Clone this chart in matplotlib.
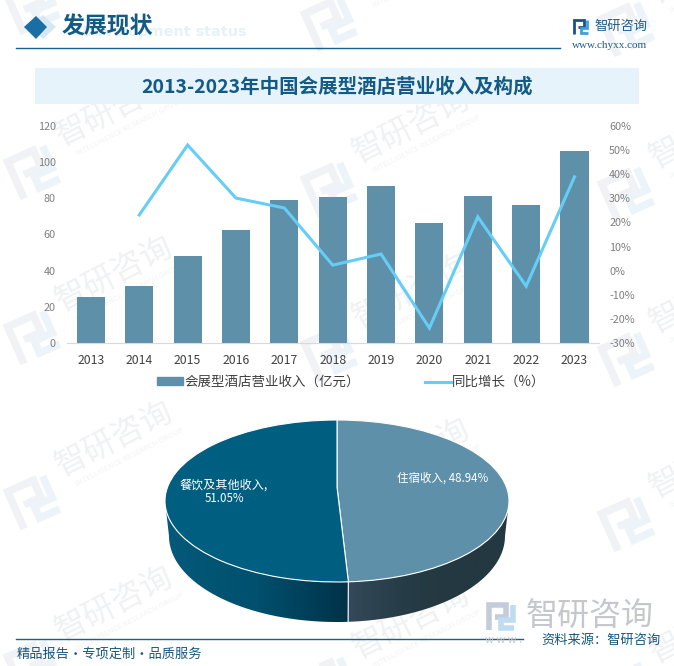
import numpy as np
import matplotlib
matplotlib.use("Agg")
import matplotlib.pyplot as plt
from matplotlib.colors import LinearSegmentedColormap
from matplotlib.lines import Line2D
from matplotlib.patches import Patch, PathPatch, Polygon, Rectangle
from matplotlib.path import Path
from matplotlib.transforms import Affine2D

plt.rcParams['font.family'] = ['Noto Sans CJK SC', 'DejaVu Sans']

W, H = 674, 666

years = ['2013', '2014', '2015', '2016', '2017', '2018', '2019', '2020', '2021', '2022', '2023']
revenue = [25.4, 31.5, 48, 62.5, 79, 80.8, 86.8, 66.4, 81.3, 76.3, 106.2]
growth = [np.nan, 23.1, 52.1, 30.1, 26, 2.3, 6.9, -23.8, 22.3, -6.4, 38.9]
left_ticks = [0, 20, 40, 60, 80, 100, 120]
right_ticks = [-30, -20, -10, 0, 10, 20, 30, 40, 50, 60]
pie_names = ['住宿收入', '餐饮及其他收入']
pie_shares = [48.94, 51.05]

BAR = '#5e91a9'
LINE = '#66cdf6'
DARK = '#005f80'
NAVY = '#135a85'


def px_axes(x0, y0, x1, y1, **kw):
    # axes placed by pixel box, y counted from the top
    return fig.add_axes([x0 / W, 1 - y1 / H, (x1 - x0) / W, (y1 - y0) / H], **kw)


def put(x, y, s, **kw):
    kw.setdefault('va', 'center')
    return fig.text(x / W, 1 - y / H, s, **kw)


def draw_mark(ax, x, y, size, angle, c1, c2, lw, zorder=0.5):
    # the little square spiral logo, (x, y) is its top left corner, y axis points down
    tr = Affine2D().scale(size).rotate_deg(angle).translate(x, y) + ax.transData
    for pts, c in (([(.08, 1), (.08, .08), (.72, .08), (.72, .5), (.3, .5)], c1),
                   ([(.95, .08), (.95, .62), (.5, .62), (.5, .92), (1, .92)], c2)):
        xs, ys = zip(*pts)
        ax.plot(xs, ys, color=c, lw=lw, transform=tr, solid_joinstyle='miter',
                solid_capstyle='butt', zorder=zorder)


fig = plt.figure(figsize=(W / 100, H / 100), dpi=100)

# background layer: watermark, header and footer furniture
bg = px_axes(0, 0, W, H, zorder=-1)
bg.set_xlim(0, W)
bg.set_ylim(H, 0)
bg.axis('off')

for col, dy in ((0, 0), (1, 17), (2, 22)):
    for row in range(-1, 4):
        x0 = 5 + col * 297
        y0 = 152 + row * 165 + dy
        draw_mark(bg, x0 - 2, y0 + 8, 44, -24, '#f0f2f6', '#edf4f9', 5.5)
        bg.text(x0 + 59, y0, '智研咨询', color='#f0f1f3', fontsize=23, rotation=27,
                rotation_mode='anchor', va='bottom', clip_on=True, zorder=0.5)
        bg.text(x0 + 73, y0 + 6, 'INTELLIGENCE RESEARCH GROUP', color='#f2f3f5', fontsize=5.5,
                rotation=27, rotation_mode='anchor', va='bottom', clip_on=True, zorder=0.5)

bg.add_patch(Rectangle((35, 68), 604, 36, color='#e6f3fb', lw=0, zorder=1))
bg.add_patch(Polygon([(43, 15), (56, 27), (43, 39), (30, 27)], color='#d7e8f3', lw=0, zorder=1))
bg.add_patch(Polygon([(36, 16), (47, 27), (36, 39), (24, 27)], color='#1a6ea6', lw=0, zorder=1))
bg.plot([16, 560], [47.5, 47.5], color='#17618a', lw=1)
bg.plot([16, 523], [639, 639], color='#17618a', lw=1)
draw_mark(bg, 573, 19, 15, 0, '#1d4f8c', '#3fa0dc', 2.0, zorder=2)
draw_mark(bg, 487, 603, 27, 0, '#c3ccdb', '#bfdcf0', 4.0, zorder=2)

put(247, 32, 'Development status', color='#e6f1f8', fontsize=10.4, fontweight='bold',
    family='DejaVu Sans', ha='right')
put(62, 27, '发展现状', color=NAVY, fontsize=16.5, fontweight='bold')
put(621, 26, '智研咨询', color='#1f5d88', fontsize=9.5, ha='center')
put(610, 46, 'www.chyxx.com', color='#1f5d88', fontsize=8, ha='center', family='Liberation Serif')
put(337, 87, '2013-2023年中国会展型酒店营业收入及构成', color=NAVY, fontsize=14,
    fontweight='bold', ha='center')
put(590, 616, '智研咨询', color='#c4c7cc', fontsize=23, ha='center')
put(485, 640, 'w w w .', color='#c4c7cc', fontsize=8)
put(541, 640, '资料来源：智研咨询', color='#17577f', fontsize=9.5)
put(17, 654, '精品报告·专项定制·品质服务', color='#17577f', fontsize=9.5)

# combo chart
ax = px_axes(66.7, 126, 598.7, 343)
ax.patch.set_alpha(0)
x = np.arange(len(years))
ax.bar(x, revenue, width=0.58, color=BAR)
ax.set_xlim(-0.5, 10.5)
ax.set_ylim(0, 120)
ax.set_xticks(x, years)
ax.set_yticks(left_ticks)
ax.tick_params(axis='x', length=0, pad=8, labelsize=8.8, labelcolor='#404040')
ax.tick_params(axis='y', length=0, pad=8, labelsize=7.8, labelcolor='#7f7f7f')
for s in ('top', 'left', 'right'):
    ax.spines[s].set_visible(False)
ax.spines['bottom'].set_color('#d9d9d9')

ax2 = ax.twinx()
ax2.patch.set_alpha(0)
ax2.plot(x, growth, color=LINE, lw=2.2, solid_joinstyle='miter')
ax2.set_ylim(-30, 60)
ax2.set_yticks(right_ticks, [f'{t}%' for t in right_ticks])
ax2.tick_params(axis='y', length=0, pad=7.5, labelsize=7.8, labelcolor='#7f7f7f')
for s in ax2.spines.values():
    s.set_visible(False)

handles = [Patch(color=BAR), Line2D([], [], color=LINE, lw=2.2)]
fig.legend(handles, ['会展型酒店营业收入（亿元）', '同比增长（%）'], ncol=2, frameon=False,
           loc='center left', bbox_to_anchor=(145 / W, 1 - 382 / H), fontsize=9.7,
           labelcolor='#404040', handlelength=1.9, handleheight=0.55, handletextpad=0.1,
           columnspacing=4.85)

# 3D looking pie, 1 unit = top ellipse radius
CX, CY, RX, RY = 337, 501, 172, 81
apex_y = (CY - 487) / RY
box = (160, 415, 515, 630)
pie = px_axes(*box)
pie.patch.set_alpha(0)
wedges, _ = pie.pie(pie_shares, startangle=90, counterclock=False, radius=1,
                    colors=[BAR, DARK], wedgeprops={'edgecolor': 'white', 'linewidth': 0.8})
pie.set_aspect('auto')
xl = ((box[0] - CX) / RX, (box[2] - CX) / RX)
yl = ((CY - box[3]) / RY, (CY - box[1]) / RY)
pie.set_xlim(*xl)
pie.set_ylim(*yl)

# the tips of the slices meet above the ellipse centre
for w in wedges:
    pth = w.get_path()
    v = w.get_patch_transform().transform(pth.vertices)
    v[np.hypot(v[:, 0], v[:, 1]) < 1e-6] = (0, apex_y)
    pie.add_patch(PathPatch(Path(v, pth.codes), facecolor=w.get_facecolor(),
                            edgecolor='white', lw=0.8, zorder=3))
    w.set_visible(False)

# side wall, bottom ellipse is a bit narrower
split = np.pi * 2 * pie_shares[0] / sum(pie_shares)
bot_cy = (CY - 536) / RY
bot_rx, bot_ry = 168 / RX, 86 / RY
left_cm = LinearSegmentedColormap.from_list('l', ['#05597a', '#00506e', '#003248'])
right_cm = LinearSegmentedColormap.from_list('r', ['#34495a', '#263c46', '#233840', '#233840'])


def wall(t0, t1, cmap):
    t = np.linspace(t0, t1, 80)
    upper = np.c_[np.sin(t), np.cos(t)]
    lower = np.c_[bot_rx * np.sin(t[::-1]), bot_cy + bot_ry * np.cos(t[::-1])]
    poly = np.vstack([upper, lower])
    im = pie.imshow(np.linspace(0, 1, 256)[None, :], cmap=cmap, aspect='auto', zorder=1,
                    extent=(poly[:, 0].min(), poly[:, 0].max(), poly[:, 1].min(), poly[:, 1].max()))
    im.set_clip_path(Polygon(poly, transform=pie.transData))


wall(split, 1.5 * np.pi, left_cm)
wall(0.5 * np.pi, split, right_cm)
pie.plot([np.sin(split), bot_rx * np.sin(split)],
         [np.cos(split), bot_cy + bot_ry * np.cos(split)], color='#e8eef2', lw=0.9, zorder=2)
pie.set_xlim(*xl)
pie.set_ylim(*yl)
pie.set_aspect('auto')

put(443, 478, f'{pie_names[0]}, {pie_shares[0]}%', color='white', fontsize=8.3, ha='center')
put(224, 485, f'{pie_names[1]},', color='white', fontsize=8.7, ha='center')
put(224, 498, f'{pie_shares[1]}%', color='white', fontsize=8.3, ha='center')

fig.savefig('out.png', dpi=100)
